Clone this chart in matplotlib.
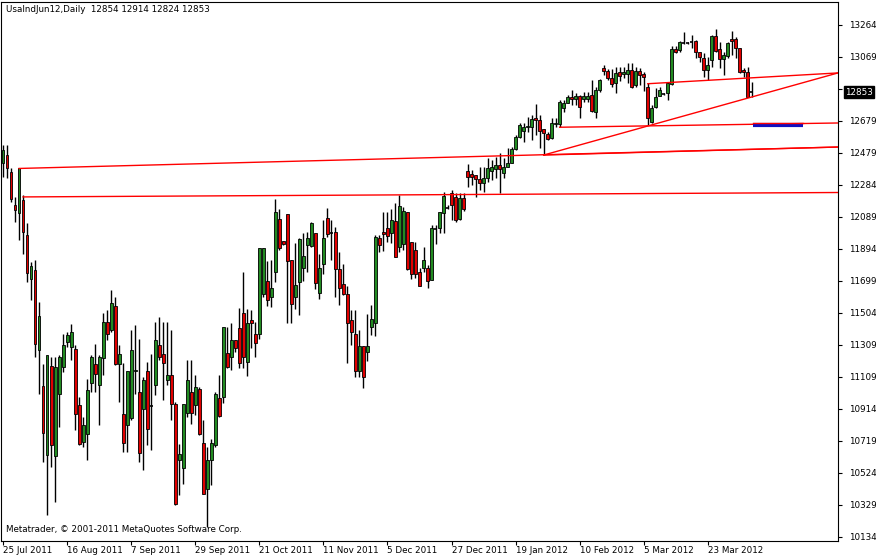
import matplotlib
matplotlib.use("Agg")
import matplotlib.pyplot as plt
import numpy as np

# Daily OHLC, UsaIndJun12 (25 Jul 2011 .. early Apr 2012)
opens = [12418, 12469, 12367, 12163, 12112, 12194, 11979, 11714, 11765, 11280,
         11055, 10637, 11178, 10629, 11010, 11174, 11327, 11296, 11286, 10939,
         10715, 10766, 11078, 11194, 11061, 11229, 11449, 11398, 11545, 11194,
         10888, 10817, 10864, 11150, 11021, 10919, 11147, 10937, 11061, 11310,
         11251, 11096, 11127, 10945, 10602, 10558, 10894, 11021, 10939, 11041,
         10708, 10429, 10602, 10694, 10981, 10987, 11256, 11236, 11338, 11409,
         11501, 11201, 11460, 11375, 11375, 11617, 11699, 11599, 11752, 12078,
         11943, 12106, 11827, 11603, 11690, 11776, 11919, 11915, 11990, 11623,
         11800, 12082, 11998, 11996, 11770, 11678, 11617, 11460, 11373, 11150,
         11301, 11267, 11415, 11440, 11959, 11996, 12021, 11990, 12065, 11909,
         11923, 12118, 11939, 11888, 11752, 11776, 11776, 11705, 12018, 12021,
         12117, 12152, 12235, 12215, 12078, 12209, 12372, 12354, 12348, 12323,
         12301, 12331, 12374, 12384, 12409, 12358, 12398, 12423, 12504, 12582,
         12616, 12639, 12643, 12694, 12684, 12626, 12596, 12572, 12657, 12659,
         12759, 12786, 12822, 12810, 12830, 12810, 12814, 12836, 12735, 12867,
         12999, 12985, 12938, 12907, 12975, 12965, 12963, 12989, 12897, 12983,
         12962, 12883, 12673, 12761, 12832, 12848, 12846, 12901, 13117, 13111,
         13156, 13156, 13158, 13168, 13101, 13060, 12989, 13050, 13197, 13115,
         13054, 13075, 13178, 13178, 13121, 12989, 12975, 12854]
highs = [12530, 12530, 12387, 12214, 12387, 12224, 12051, 11816, 11830, 11571,
         11194, 11245, 11235, 11235, 11245, 11378, 11388, 11439, 11306, 10990,
         10868, 11102, 11245, 11316, 11245, 11504, 11520, 11647, 11602, 11306,
         11198, 11147, 11398, 11429, 11347, 11112, 11204, 11251, 11449, 11480,
         11449, 11449, 11398, 10959, 10704, 10949, 11218, 11218, 11123, 11051,
         10847, 10684, 10735, 11021, 11124, 11415, 11419, 11440, 11338, 11531,
         11752, 11525, 11521, 11450, 11898, 11898, 11821, 11827, 12200, 12139,
         11943, 12106, 11827, 11933, 11959, 11994, 12000, 12061, 11990, 11864,
         12071, 12143, 12071, 12031, 11878, 11802, 11668, 11521, 11521, 11399,
         11301, 11495, 11552, 11980, 11980, 12122, 12122, 12137, 12177, 12224,
         12153, 12118, 11939, 11939, 11776, 11909, 11796, 12041, 12041, 12122,
         12245, 12164, 12256, 12235, 12235, 12235, 12415, 12378, 12348, 12398,
         12398, 12449, 12439, 12460, 12480, 12449, 12510, 12520, 12592, 12663,
         12663, 12704, 12714, 12779, 12714, 12630, 12612, 12694, 12694, 12806,
         12806, 12836, 12867, 12850, 12836, 12857, 12857, 12928, 12887, 12936,
         13020, 12993, 12993, 13009, 13009, 13009, 13034, 13034, 13009, 12999,
         12975, 12907, 12775, 12877, 12887, 12850, 12918, 13138, 13136, 13168,
         13219, 13162, 13203, 13172, 13101, 13091, 13071, 13203, 13238, 13162,
         13101, 13162, 13227, 13193, 13121, 12999, 13009, 12914]
lows = [12336, 12326, 12183, 12061, 11949, 11867, 11694, 11582, 11235, 11010,
        10592, 10266, 10562, 10347, 10806, 11143, 11296, 11214, 10786, 10694,
        10684, 10602, 11021, 11021, 10817, 11123, 11337, 11388, 11184, 10959,
        10653, 10653, 10847, 11010, 10592, 10541, 10694, 10664, 11000, 11214,
        10970, 11061, 10847, 10327, 10388, 10460, 10868, 10827, 10878, 10755,
        10398, 10194, 10449, 10684, 10870, 10955, 11165, 11155, 11267, 11165,
        11165, 11120, 11287, 11236, 11342, 11599, 11546, 11538, 11695, 11888,
        11919, 11444, 11444, 11525, 11491, 11701, 11756, 11909, 11648, 11586,
        11739, 11966, 11827, 11599, 11552, 11613, 11195, 11307, 11114, 11114,
        11042, 11212, 11368, 11365, 11878, 11884, 11935, 11929, 11847, 11878,
        11888, 11766, 11713, 11715, 11670, 11756, 11654, 11705, 11925, 11990,
        11991, 12138, 12072, 12062, 12072, 12129, 12276, 12286, 12215, 12256,
        12245, 12307, 12317, 12327, 12235, 12327, 12398, 12419, 12500, 12572,
        12551, 12612, 12561, 12592, 12510, 12469, 12561, 12568, 12643, 12643,
        12735, 12786, 12775, 12775, 12698, 12795, 12795, 12735, 12694, 12852,
        12958, 12928, 12887, 12850, 12924, 12938, 12907, 12877, 12887, 12897,
        12863, 12653, 12667, 12755, 12830, 12836, 12806, 12895, 13091, 13101,
        13148, 13150, 13122, 13060, 13040, 12948, 12928, 13009, 13101, 12999,
        12958, 13060, 13081, 13060, 12969, 12948, 12822, 12824]
closes = [12500, 12387, 12198, 12132, 12387, 12000, 11749, 11790, 11316, 11484,
          10770, 11245, 10698, 11174, 11235, 11306, 11367, 11388, 10888, 10704,
          10817, 11031, 11235, 11133, 11235, 11449, 11378, 11565, 11194, 11251,
          10711, 11147, 11280, 11156, 10649, 11096, 10796, 10933, 11337, 11235,
          11200, 11127, 10949, 10333, 10639, 10949, 11096, 10892, 11051, 10766,
          10398, 10602, 10708, 11010, 10875, 11415, 11175, 11338, 11291, 11195,
          11236, 11440, 11444, 11322, 11898, 11898, 11582, 11654, 12118, 11902,
          11923, 11823, 11556, 11672, 11953, 11851, 11959, 12051, 11684, 11776,
          11959, 11984, 11994, 11770, 11654, 11617, 11440, 11389, 11150, 11301,
          11114, 11301, 11466, 11966, 11919, 11984, 11976, 12071, 11847, 12157,
          12126, 11770, 11739, 11741, 11670, 11827, 11699, 12021, 12014, 12118,
          12219, 12148, 12164, 12072, 12209, 12140, 12337, 12337, 12323, 12301,
          12331, 12388, 12398, 12409, 12382, 12398, 12423, 12506, 12578, 12651,
          12643, 12647, 12690, 12684, 12616, 12602, 12565, 12663, 12663, 12792,
          12790, 12822, 12810, 12830, 12765, 12830, 12830, 12741, 12867, 12926,
          12985, 12938, 12903, 12973, 12954, 12975, 12989, 12887, 12983, 12958,
          12948, 12694, 12755, 12826, 12867, 12844, 12907, 13117, 13101, 13158,
          13157, 13157, 13159, 13101, 13066, 12989, 13020, 13197, 13107, 13054,
          13081, 13152, 13168, 13121, 12979, 12975, 12822, 12853]

# 12873 sits under the last-price box in the reference, so it is not shown
price_ticks = [10134, 10329, 10524, 10719, 10914, 11109, 11309, 11504, 11699,
               11894, 12089, 12284, 12479, 12679, None, 13069, 13264]
date_labels = ["25 Jul 2011", "16 Aug 2011", "7 Sep 2011", "29 Sep 2011",
               "21 Oct 2011", "11 Nov 2011", "5 Dec 2011", "27 Dec 2011",
               "19 Jan 2012", "10 Feb 2012", "5 Mar 2012", "23 Mar 2012"]
date_idx = [0, 16, 32, 48, 64, 80, 96, 112, 128, 144, 160, 176]

# trend lines drawn on the chart: (bar0, price0, bar1, price1)
trend_lines = [
    (4, 12387, 208.5, 12518),
    (5, 12213, 208.5, 12240),
    (135, 12469, 208.5, 12518),
    (135, 12469, 208.5, 12971),
    (139, 12639, 208.5, 12665),
    (161, 12905, 208.5, 12971),
]
box_line = (187.3, 199.7, 12655)
last_price = 12853

W, H = 876, 556
fig = plt.figure(figsize=(W / 100, H / 100), dpi=100)
L, R, T, B = 1, 838, 2, 541
ax = fig.add_axes([L / W, (H - B) / H, (R - L) / W, (B - T) / H])

ppx = (13264 - 10134) / 512.0
ax.set_ylim(13264 - (B - 25) * ppx, 13264 + (25 - T) * ppx)
ax.set_xlim(-0.5, 208.5)

x = np.arange(len(closes))
o = np.array(opens); c = np.array(closes)
h = np.array(highs); lo = np.array(lows)
ax.vlines(x, lo, h, color="black", linewidth=1, zorder=2)
up = c >= o
body_lo = np.minimum(o, c)
body_h = np.abs(c - o)
doji = body_h < 6
colors = np.where(up, "#228b22", "#e00000")
m = ~doji
ax.bar(x[m], body_h[m], bottom=body_lo[m], width=0.72, color=colors[m],
       edgecolor="black", linewidth=0.6, zorder=3)
ax.hlines(c[doji], x[doji] - 0.4, x[doji] + 0.4, color="black", linewidth=1.2, zorder=3)

for x0, y0, x1, y1 in trend_lines:
    ax.plot([x0, x1], [y0, y1], color="red", linewidth=1, zorder=4)
ax.plot([box_line[0], box_line[1]], [box_line[2], box_line[2]], color="#1010c0",
        linewidth=3, solid_capstyle="butt", zorder=5)
ax.plot([box_line[0], box_line[1]], [box_line[2] + 8, box_line[2] + 8], color="red",
        linewidth=1, zorder=6)

ax.yaxis.tick_right()
tick_pos = np.linspace(10134, 13264, len(price_ticks))
ax.set_yticks(tick_pos)
ax.set_yticklabels(["" if p is None else str(p) for p in price_ticks])
ax.tick_params(axis="y", length=3, width=0.8, pad=5, labelsize=6.3)
ax.set_xticks(date_idx)
ax.set_xticklabels(date_labels, ha="left")
ax.tick_params(axis="x", length=3, width=0.8, pad=0.5, labelsize=6.3)
for s in ax.spines.values():
    s.set_linewidth(0.8)

# last price marker
ax.annotate(str(last_price), xy=(1.0, last_price), xycoords=("axes fraction", "data"),
            xytext=(5, 0), textcoords="offset points", va="center", ha="left",
            fontsize=6.3, color="white", annotation_clip=False,
            bbox=dict(boxstyle="square,pad=0.15", fc="black", ec="black"))

fig.text(6 / W, 1 - 10 / H, "UsaIndJun12,Daily  12854 12914 12824 12853",
         fontsize=6.3, va="center", ha="left")
fig.text(6 / W, 1 - 530 / H, "Metatrader, \u00a9 2001-2011 MetaQuotes Software Corp.",
         fontsize=6.3, va="center", ha="left")

fig.savefig("out.png", dpi=100)
